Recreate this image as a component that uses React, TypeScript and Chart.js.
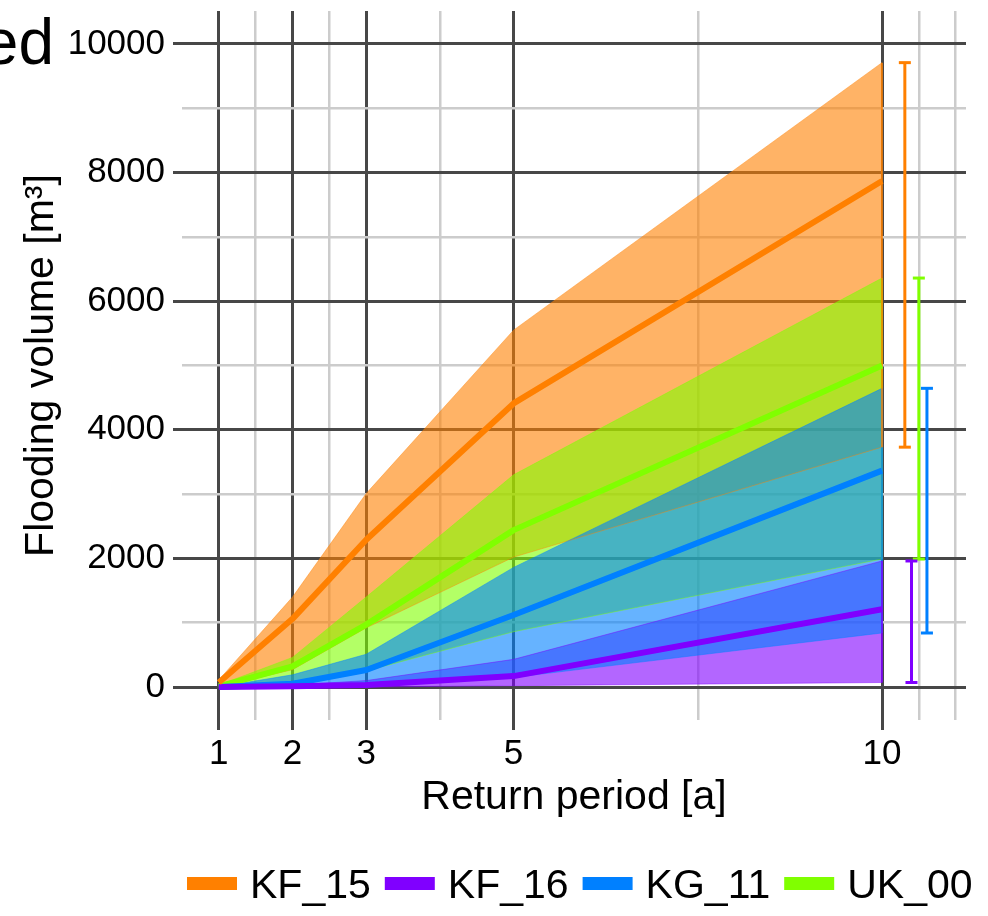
import React, { useEffect, useRef } from 'react';
import { Chart, registerables } from 'chart.js';

Chart.register(...registerables);

// Return periods [a] at which the flooding volume was evaluated
const returnPeriods = [1, 2, 3, 5, 10];

// Flooding volume [m³] per catchment: mean line, upper and lower band limits
const kf15Mean = [70, 1060, 2290, 4410, 7870];
const kf15Max = [110, 1400, 3010, 5550, 9710];
const kf15Min = [0, 270, 920, 2020, 3730];

const kf16Mean = [0, 10, 30, 170, 1210];
const kf16Max = [0, 30, 100, 430, 1960];
const kf16Min = [0, 0, 0, 20, 70];

const kg11Mean = [0, 50, 265, 1120, 3365];
const kg11Max = [0, 190, 510, 1860, 4645];
const kg11Min = [0, 0, 10, 150, 840];

const uk00Mean = [10, 320, 970, 2440, 5000];
const uk00Max = [30, 460, 1400, 3300, 6360];
const uk00Min = [0, 60, 250, 860, 1990];

const seriesLabels = ['KF_15', 'KF_16', 'KG_11', 'UK_00'];
// horizontal position of the range bar drawn to the right of the bands
const rangeBarX = [10.31, 10.4, 10.61, 10.5];

const xMajorTicks = [1, 2, 3, 5, 10];
const xMinorTicks = [1.5, 2.5, 4, 7.5, 10.5, 11];
const yTickValues = [0, 1000, 2000, 3000, 4000, 5000, 6000, 7000, 8000, 9000, 10000];
const yLabelledTicks = [0, 2000, 4000, 6000, 8000, 10000];

const FONT = '"Liberation Sans", Arial, Helvetica, sans-serif';
const MAJOR_GRID = '#474747';
const MINOR_GRID = '#cccccc';

type Series = {
  label: string;
  rgb: number[];
  mean: number[];
  max: number[];
  min: number[];
  barX: number;
};

const series: Series[] = [
  { label: seriesLabels[0], rgb: [255, 128, 0], mean: kf15Mean, max: kf15Max, min: kf15Min, barX: rangeBarX[0] },
  { label: seriesLabels[1], rgb: [128, 0, 255], mean: kf16Mean, max: kf16Max, min: kf16Min, barX: rangeBarX[1] },
  { label: seriesLabels[2], rgb: [0, 128, 255], mean: kg11Mean, max: kg11Max, min: kg11Min, barX: rangeBarX[2] },
  { label: seriesLabels[3], rgb: [128, 255, 0], mean: uk00Mean, max: uk00Max, min: uk00Min, barX: rangeBarX[3] },
];

// bands are painted from the bottom layer upwards in this order
const bandOrderBottomUp = [0, 1, 3, 2];

const rgba = (rgb: number[], a: number) => `rgba(${rgb[0]},${rgb[1]},${rgb[2]},${a})`;
const pts = (ys: number[]) => returnPeriods.map((x, i) => ({ x, y: ys[i] }));

function buildDatasets() {
  const last = returnPeriods.length - 1;
  const lastX = returnPeriods[last];
  const ds: any[] = [];

  // mean lines (top layer)
  for (const s of series) {
    ds.push({
      label: s.label,
      data: pts(s.mean),
      borderColor: rgba(s.rgb, 1),
      borderWidth: 6,
      borderJoinStyle: 'round',
      pointRadius: 0,
      fill: false,
    });
  }

  // range bars at the right: lower to upper limit at the largest return period
  for (const s of series) {
    ds.push({
      label: s.label + ' range',
      data: [
        { x: s.barX, y: s.min[last] },
        { x: s.barX, y: s.max[last] },
      ],
      borderColor: rgba(s.rgb, 1),
      borderWidth: 3,
      pointStyle: 'line',
      pointRadius: 6,
      pointBorderWidth: 3,
      pointBorderColor: rgba(s.rgb, 1),
      pointBackgroundColor: rgba(s.rgb, 1),
      fill: false,
    });
  }

  // closing edge of each band at the largest return period
  for (const s of series) {
    ds.push({
      label: s.label + ' edge',
      data: [
        { x: lastX, y: s.min[last] },
        { x: lastX, y: s.max[last] },
      ],
      borderColor: rgba(s.rgb, 0.75),
      borderWidth: 2,
      pointRadius: 0,
      fill: false,
    });
  }

  // shaded bands, top-most layer first
  for (const idx of [...bandOrderBottomUp].reverse()) {
    const s = series[idx];
    ds.push({
      label: s.label + ' max',
      data: pts(s.max),
      borderColor: rgba(s.rgb, 0.45),
      borderWidth: 1,
      backgroundColor: rgba(s.rgb, 0.6),
      pointRadius: 0,
      fill: '+1',
    });
    ds.push({
      label: s.label + ' min',
      data: pts(s.min),
      borderColor: rgba(s.rgb, 0.45),
      borderWidth: 1,
      pointRadius: 0,
      fill: false,
    });
  }
  return ds;
}

// Title fragment and legend drawn on top of the chart
const overlayPlugin = {
  id: 'overlay',
  afterDraw(chart: any) {
    const ctx: CanvasRenderingContext2D = chart.ctx;
    ctx.save();
    ctx.fillStyle = '#000';
    ctx.font = `64px ${FONT}`;
    ctx.textAlign = 'right';
    ctx.textBaseline = 'alphabetic';
    ctx.fillText('ed', 54, 64);

    ctx.font = `41px ${FONT}`;
    ctx.textAlign = 'left';
    let x = 187;
    for (const s of series) {
      ctx.fillStyle = rgba(s.rgb, 1);
      ctx.fillRect(x, 877, 50, 13);
      ctx.fillStyle = '#000';
      ctx.fillText(s.label, x + 63, 898);
      x += 63 + ctx.measureText(s.label).width + 14;
    }
    ctx.restore();
  },
};

export default function App() {
  const ref = useRef<HTMLCanvasElement>(null);

  useEffect(() => {
    if (!ref.current) return;
    Chart.defaults.font.family = FONT;
    const chart = new Chart(ref.current, {
      type: 'line',
      data: { datasets: buildDatasets() },
      options: {
        responsive: false,
        animation: false,
        events: [],
        layout: { padding: { top: 11, right: 22, left: 0, bottom: 0 } },
        plugins: {
          legend: { display: false },
          tooltip: { enabled: false },
          filler: { drawTime: 'beforeDatasetsDraw', propagate: false },
        } as any,
        scales: {
          x: {
            type: 'linear',
            min: 0.5,
            max: 11.14,
            afterBuildTicks: (s: any) => {
              s.ticks = [...xMajorTicks, ...xMinorTicks]
                .sort((a, b) => a - b)
                .map((v) => ({ value: v }));
            },
            afterFit: (s: any) => {
              s.height = 196;
              s.paddingLeft = 0;
              s.paddingRight = 0;
            },
            border: { display: false },
            grid: {
              color: (c: any) => (xMajorTicks.includes(c.tick?.value) ? MAJOR_GRID : MINOR_GRID),
              lineWidth: (c: any) => (xMajorTicks.includes(c.tick?.value) ? 3 : 2.5),
              tickColor: (c: any) => (xMajorTicks.includes(c.tick?.value) ? MAJOR_GRID : 'rgba(0,0,0,0)'),
              tickWidth: 3,
              tickLength: 10,
            },
            ticks: {
              autoSkip: false,
              maxRotation: 0,
              minRotation: 0,
              padding: 3,
              color: '#000',
              font: { size: 35, family: FONT },
              callback: (v: any) => (xMajorTicks.includes(v) ? String(v) : ''),
            },
            title: {
              display: true,
              text: 'Return period [a]',
              color: '#000',
              font: { size: 41, family: FONT },
              padding: { top: 0, bottom: 94 },
            },
          },
          y: {
            type: 'linear',
            min: -513,
            max: 10513,
            afterBuildTicks: (s: any) => {
              s.ticks = yTickValues.map((v) => ({ value: v }));
            },
            afterFit: (s: any) => {
              s.width = 182;
              s.paddingTop = 0;
              s.paddingBottom = 0;
            },
            border: { display: false },
            grid: {
              color: (c: any) => (yLabelledTicks.includes(c.tick?.value) ? MAJOR_GRID : MINOR_GRID),
              lineWidth: (c: any) => (yLabelledTicks.includes(c.tick?.value) ? 3 : 2.5),
              tickColor: (c: any) => (yLabelledTicks.includes(c.tick?.value) ? MAJOR_GRID : 'rgba(0,0,0,0)'),
              tickWidth: 3,
              tickLength: 9,
            },
            ticks: {
              autoSkip: false,
              padding: 8,
              color: '#000',
              font: { size: 35, family: FONT },
              callback: (v: any) => (yLabelledTicks.includes(v) ? String(v) : ''),
            },
            title: {
              display: true,
              text: 'Flooding volume [m³]',
              color: '#000',
              font: { size: 41, family: FONT },
              padding: { top: 17, bottom: 0 },
            },
          },
        },
      },
      plugins: [overlayPlugin],
    } as any);
    return () => chart.destroy();
  }, []);

  return (
    <div style={{ position: 'absolute', left: 0, top: 0, width: 988, height: 916, background: '#fff' }}>
      <canvas ref={ref} width={988} height={916} style={{ display: 'block', width: 988, height: 916 }} />
    </div>
  );
}
